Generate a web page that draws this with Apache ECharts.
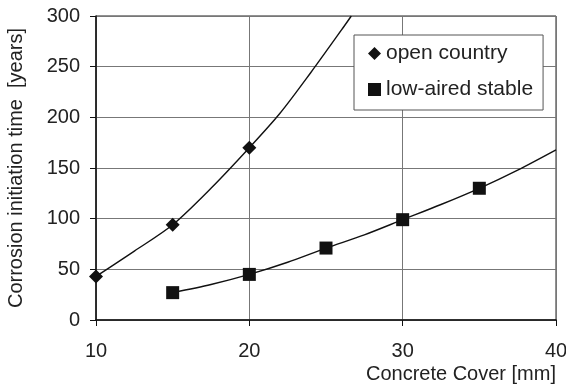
<!DOCTYPE html>
<html>
<head>
<meta charset="utf-8">
<script src="https://cdn.jsdelivr.net/npm/echarts@6/dist/echarts.min.js"></script>
<style>html,body{margin:0;padding:0;background:#fff}#c{width:566px;height:390px}</style>
</head>
<body>
<div id="c"></div>
<script>
// measured points
const openX = [10, 15, 20];
const openY = [43, 94, 170];
const lowX = [15, 20, 25, 30, 35];
const lowY = [27, 45, 71, 99, 130];
// trend curves
const openTrendX = [10, 12.5, 15, 17.5, 20, 22, 24, 26, 26.65];
const openTrendY = [43, 68, 94, 130, 170, 204, 244, 286, 300];
const lowTrendX = [15, 17.5, 20, 22.5, 25, 27.5, 30, 32.5, 35, 37.5, 40];
const lowTrendY = [27, 35, 45, 57, 71, 84, 99, 114, 130, 148, 168];
const xTicks = [10, 20, 30, 40];
const yTicks = [0, 50, 100, 150, 200, 250, 300];

const zip = (xs, ys) => xs.map((x, i) => [x, ys[i]]);
const font = 'Liberation Sans, Arial, sans-serif';
const chart = echarts.init(document.getElementById('c'), null, {renderer: 'canvas'});
chart.setOption({
  animation: false,
  backgroundColor: '#fff',
  grid: {left: 96, right: 10, top: 16, bottom: 70, show: true, borderColor: '#222', borderWidth: 1,
         outerBoundsMode: 'none', containLabel: false},
  legend: {
    left: 354, top: 35, orient: 'vertical',
    data: [{name: 'open country', icon: 'diamond'}, {name: 'low-aired stable', icon: 'rect'}],
    itemWidth: 13, itemHeight: 13, itemGap: 15,
    padding: [8, 10, 10, 14],
    borderColor: '#555', borderWidth: 1, backgroundColor: '#fff',
    itemStyle: {opacity: 1},
    textStyle: {fontFamily: font, fontSize: 21, color: '#222'}
  },
  xAxis: {
    type: 'value', min: xTicks[0], max: xTicks[xTicks.length - 1], interval: 10,
    name: 'Concrete Cover [mm]', nameLocation: 'end', nameGap: 0,
    nameTextStyle: {fontFamily: font, fontSize: 20, color: '#222', align: 'right', verticalAlign: 'top', padding: [44, 0, 0, 0]},
    axisLine: {lineStyle: {color: '#111', width: 1.5}},
    axisTick: {show: true, length: 6, inside: false, lineStyle: {color: '#111'}},
    axisLabel: {fontFamily: font, fontSize: 20, color: '#222', margin: 21},
    splitLine: {show: true, lineStyle: {color: '#777', width: 1}}
  },
  yAxis: {
    type: 'value', min: yTicks[0], max: yTicks[yTicks.length - 1], interval: 50,
    name: 'Corrosion initiation time  [years]', nameLocation: 'middle', nameGap: 70, nameRotate: 90,
    nameTextStyle: {fontFamily: font, fontSize: 20, color: '#222'},
    axisLine: {show: true, lineStyle: {color: '#111', width: 1.5}},
    axisTick: {show: true, length: 6, inside: false, lineStyle: {color: '#111'}},
    axisLabel: {fontFamily: font, fontSize: 20, color: '#222', margin: 16},
    splitLine: {show: true, lineStyle: {color: '#777', width: 1}}
  },
  series: [
    {name: 'open trend', type: 'line', data: zip(openTrendX, openTrendY), smooth: 0.3, showSymbol: false,
     lineStyle: {color: '#111', width: 1.4}, z: 2, silent: true},
    {name: 'low trend', type: 'line', data: zip(lowTrendX, lowTrendY), smooth: 0.3, showSymbol: false,
     lineStyle: {color: '#111', width: 1.4}, z: 2, silent: true},
    {name: 'open country', type: 'scatter', data: zip(openX, openY), symbol: 'diamond', symbolSize: 14,
     itemStyle: {color: '#111', opacity: 1}, z: 5},
    {name: 'low-aired stable', type: 'scatter', data: zip(lowX, lowY), symbol: 'rect', symbolSize: 13,
     itemStyle: {color: '#111', opacity: 1}, z: 5}
  ]
});
</script>
</body>
</html>
